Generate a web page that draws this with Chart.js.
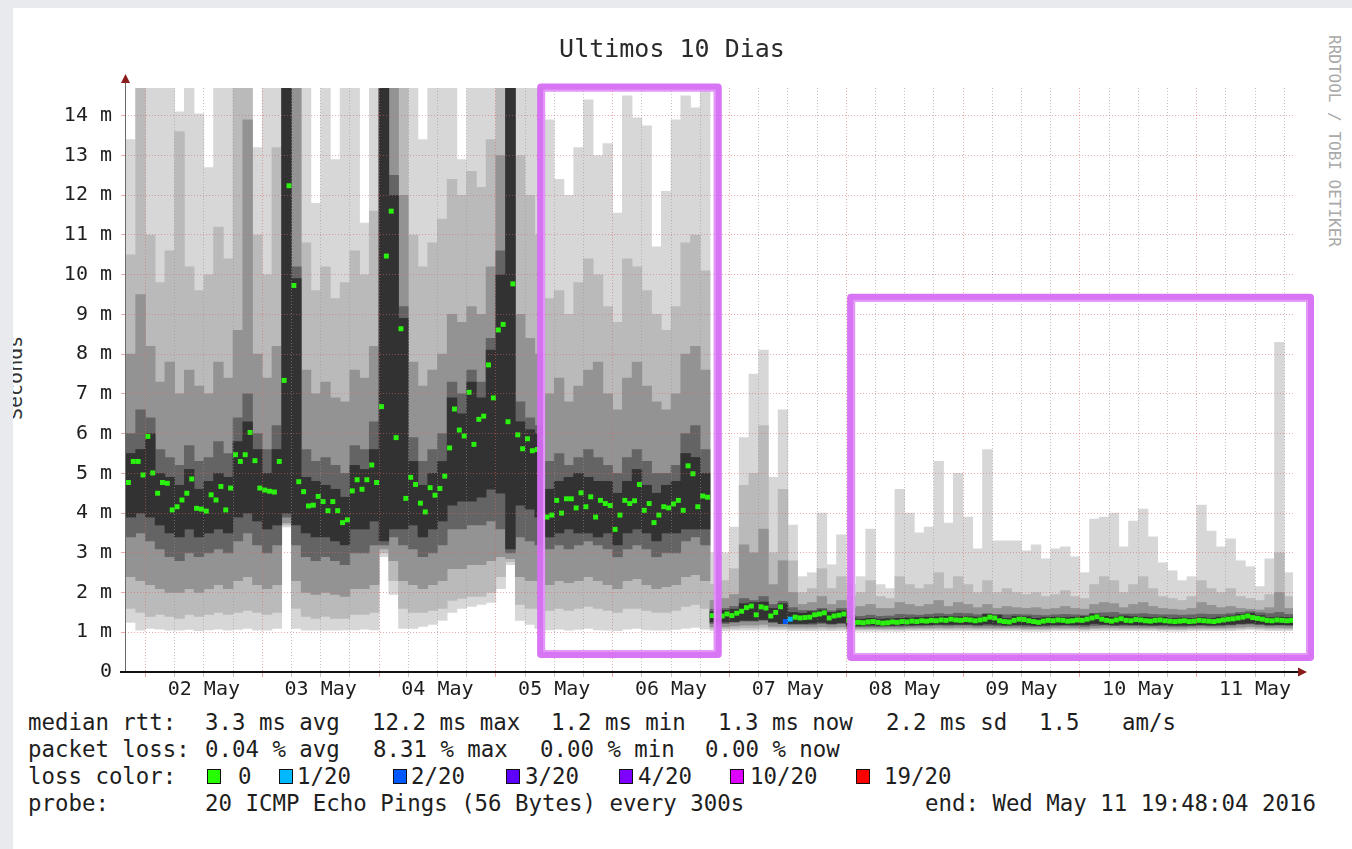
<!DOCTYPE html>
<html>
<head>
<meta charset="utf-8">
<script src="https://cdn.jsdelivr.net/npm/chart.js@4.4.1/dist/chart.umd.min.js"></script>
<style>
html,body{margin:0;padding:0;}
body{width:1352px;height:849px;background:#e9eaee;position:relative;overflow:hidden;font-family:'DejaVu Sans Mono','Liberation Mono',monospace;}
#card{position:absolute;left:13px;top:8px;width:1339px;height:841px;background:#ffffff;overflow:hidden;z-index:0;}
#ylab{position:absolute;left:-40px;top:358px;width:84px;height:24px;line-height:24px;font-size:20px;color:#333;text-align:center;white-space:nowrap;transform:rotate(-90deg);}
#credit{position:absolute;left:1228px;top:131px;width:212px;height:20px;line-height:20px;font-size:16px;color:#a9a9a9;text-align:center;white-space:nowrap;transform:rotate(90deg);z-index:1;}
#c{position:absolute;left:0;top:0;z-index:2;}
.lg{position:absolute;font-size:22.4px;line-height:26px;height:26px;color:#1e1e1e;white-space:pre;z-index:1;}
.sw{position:absolute;width:12px;height:13px;border:1px solid #111;z-index:1;}
</style>
</head>
<body>
<div id="card"><div id="ylab">Seconds</div></div>
<div id="credit">RRDTOOL / TOBI OETIKER</div>
<div id="legend"></div>
<canvas id="c" width="1352" height="849"></canvas>
<script>
// ---- time base: hours since 01 May 2016 00:00 ----
const rangeStart = 19.8;   // May 1 19:48
const rangeEnd = 259.8;    // May 11 19:48
const smokeFirstBin = 20;  // smoke bins start May 1 20:00
const smokeBinHours = 2;
const medianFirst = 20.5;  // hourly median samples
const medianStepHours = 1;

const dayLabels = ['02 May','03 May','04 May','05 May','06 May','07 May','08 May','09 May','10 May','11 May'];
const yTickLabels = ['0','1 m','2 m','3 m','4 m','5 m','6 m','7 m','8 m','9 m','10 m','11 m','12 m','13 m','14 m'];

// ---- smoke (ping distribution) per 2-hour bin, in ms ----
const smokeMax = [
 13.4,14.7,14.7,14.7,14.7,14.1,14.7,14.05,12.7,14.7,
 14.7,14.7,14.7,13.2,14.7,14.7,14.7,14.7,14.7,11.8,
 14.7,12.9,14.7,14.7,11.3,14.7,14.7,14.7,14.7,14.7,
 13.4,14.7,14.7,14.7,12.9,14.7,14.7,14.7,14.7,14.7,
 14.7,14.7,14.7,13.9,12.4,12.0,13.2,14.4,13.0,13.3,
 11.55,14.5,13.95,13.75,10.7,12.1,13.9,14.5,14.2,14.65,
 3.0,3.0,3.65,5.9,7.5,8.1,4.9,6.6,3.7,2.4,
 2.5,4.0,2.7,3.45,2.2,2.4,3.6,2.2,2.1,4.6,
 4.0,3.5,3.65,5.3,3.75,5.0,3.9,3.1,5.6,3.3,
 3.3,3.3,3.05,3.2,2.85,3.1,3.15,2.9,2.5,3.85,
 3.9,4.0,3.15,3.8,4.1,3.4,2.75,2.55,2.3,2.4,
 4.2,3.55,3.15,3.35,2.8,2.65,2.15,2.85,8.3,2.5
];
const smokeHi1 = [
 10.5,14.7,11.0,9.8,10.6,13.6,10.2,9.6,10.0,11.2,
 10.4,14.7,14.7,11.0,10.0,13.2,14.7,14.7,10.8,9.6,
 10.2,9.4,9.8,10.6,10.0,11.6,14.7,14.7,14.7,11.0,
 10.2,10.8,11.4,12.4,12.0,12.6,12.2,13.4,14.7,14.7,
 13.0,12.0,11.0,9.4,9.6,9.0,9.8,10.4,10.0,9.2,
 8.8,10.4,10.2,9.6,9.0,8.6,9.2,10.8,11.0,10.1,
 2.2,2.3,2.6,4.7,5.0,6.2,3.0,4.6,2.8,2.0,
 2.1,2.6,2.1,2.4,1.9,2.0,2.3,1.9,1.85,2.4,
 2.2,2.1,2.2,2.5,2.1,2.4,2.2,2.0,2.3,2.0,
 2.1,2.0,1.95,2.0,1.9,1.95,2.05,1.9,1.85,2.2,
 2.4,2.3,2.0,2.2,2.4,2.1,1.9,1.85,1.8,1.9,
 2.3,2.1,2.0,2.1,1.9,1.85,1.8,1.95,3.0,1.9
];
const smokeHi2 = [
 8.0,9.5,8.2,7.3,7.8,7.0,7.6,7.2,7.0,7.8,
 7.4,8.6,13.9,8.0,7.4,8.2,14.7,14.7,7.6,7.0,
 7.3,6.9,6.8,7.6,7.4,8.2,14.7,14.7,12.0,7.8,
 7.2,7.6,8.0,9.0,8.8,9.2,9.0,10.2,13.0,14.7,
 9.0,8.4,8.0,7.0,7.4,6.8,7.2,7.6,7.8,7.0,
 6.6,7.4,7.8,7.2,6.8,6.6,7.0,8.0,8.2,7.6,
 1.8,1.85,1.95,3.2,3.0,3.6,2.2,2.8,2.0,1.7,
 1.75,1.9,1.7,1.8,1.6,1.65,1.7,1.6,1.6,1.75,
 1.7,1.65,1.7,1.8,1.65,1.75,1.7,1.62,1.7,1.6,
 1.65,1.62,1.6,1.62,1.58,1.6,1.65,1.6,1.58,1.7,
 1.75,1.72,1.62,1.7,1.75,1.65,1.6,1.58,1.56,1.6,
 1.75,1.68,1.62,1.65,1.6,1.58,1.56,1.62,2.0,1.6
];
const smokeHi3 = [
 6.0,6.6,6.4,5.6,5.4,5.2,5.7,5.3,5.4,5.8,
 5.5,6.4,7.0,6.0,5.6,6.2,14.7,10.2,5.6,5.3,
 5.4,5.2,5.0,5.7,5.6,6.3,14.7,12.5,9.2,5.9,
 5.3,5.6,6.0,7.3,7.0,7.6,7.3,8.4,10.6,14.7,
 6.8,6.4,6.2,5.3,5.5,5.2,5.4,5.6,5.4,5.2,
 5.0,5.4,5.6,5.3,5.0,5.0,5.2,6.0,6.2,5.6,
 1.58,1.6,1.65,1.85,1.8,1.9,1.7,1.78,1.62,1.55,
 1.55,1.6,1.54,1.6,1.42,1.4,1.43,1.4,1.41,1.45,
 1.44,1.43,1.45,1.47,1.45,1.48,1.47,1.44,1.47,1.45,
 1.44,1.45,1.44,1.43,1.42,1.44,1.45,1.44,1.43,1.47,
 1.49,1.5,1.46,1.46,1.47,1.45,1.44,1.44,1.43,1.44,
 1.46,1.45,1.45,1.47,1.5,1.52,1.49,1.47,1.5,1.45
];
const smokeHi4 = [
 5.5,5.6,6.0,5.0,4.9,4.7,5.1,4.6,4.8,5.0,
 4.9,5.8,6.3,5.6,5.0,5.6,14.7,9.9,4.9,4.8,
 4.7,4.6,4.4,5.2,5.1,5.6,14.7,12.0,8.9,5.3,
 4.7,5.0,5.3,6.9,6.5,7.3,6.9,8.1,10.0,14.7,
 6.3,6.1,6.0,4.6,4.8,4.9,5.0,4.9,4.8,4.8,
 4.5,4.8,5.1,4.7,4.5,4.7,4.8,5.5,5.4,5.0,
 1.52,1.55,1.58,1.72,1.75,1.76,1.6,1.72,1.5,1.48,
 1.52,1.56,1.5,1.54,1.36,1.33,1.35,1.33,1.34,1.35,
 1.36,1.37,1.38,1.39,1.4,1.39,1.39,1.38,1.45,1.43,
 1.35,1.4,1.39,1.35,1.37,1.38,1.37,1.38,1.4,1.46,
 1.4,1.38,1.41,1.39,1.38,1.37,1.38,1.35,1.36,1.35,
 1.37,1.35,1.38,1.41,1.45,1.48,1.42,1.37,1.38,1.37
];
const smokeLo4 = [
 3.9,4.0,3.9,3.7,3.5,3.4,3.6,3.4,3.5,3.6,
 3.5,3.9,4.0,3.8,3.6,3.7,4.0,3.7,3.5,3.4,
 3.4,3.3,3.2,3.6,3.6,3.8,3.3,3.6,3.6,3.7,
 3.4,3.6,3.8,4.2,4.3,4.3,4.4,4.6,4.5,3.1,
 4.2,4.1,3.9,3.4,3.5,3.6,3.5,3.5,3.4,3.5,
 3.2,3.5,3.6,3.5,3.3,3.5,3.5,3.6,3.6,3.6,
 1.26,1.26,1.27,1.3,1.3,1.32,1.27,1.22,1.22,1.22,
 1.23,1.25,1.22,1.24,1.17,1.17,1.18,1.17,1.17,1.18,
 1.18,1.19,1.19,1.2,1.2,1.2,1.2,1.19,1.21,1.2,
 1.18,1.19,1.19,1.17,1.18,1.19,1.19,1.19,1.19,1.22,
 1.2,1.18,1.2,1.19,1.19,1.18,1.19,1.18,1.18,1.18,
 1.19,1.18,1.19,1.2,1.22,1.23,1.21,1.19,1.19,1.19
];
const smokeLo3 = [
 3.4,3.5,3.3,3.1,2.9,2.8,3.0,2.9,3.0,3.1,
 3.0,3.3,3.5,3.2,3.0,3.2,3.9,3.2,2.9,2.8,
 2.9,2.8,2.7,3.0,3.0,3.2,3.2,3.4,3.2,3.1,
 2.9,3.0,3.2,3.6,3.6,3.7,3.7,3.8,3.6,3.0,
 3.4,3.3,3.2,3.1,3.2,3.1,3.2,3.3,3.2,3.1,
 2.9,3.1,3.2,3.1,2.9,3.0,3.0,3.3,3.4,3.2,
 1.22,1.22,1.25,1.28,1.28,1.3,1.24,1.22,1.2,1.2,
 1.2,1.22,1.2,1.22,1.15,1.14,1.14,1.14,1.15,1.15,
 1.16,1.16,1.17,1.18,1.17,1.18,1.18,1.16,1.17,1.16,
 1.16,1.16,1.15,1.15,1.15,1.16,1.17,1.16,1.15,1.17,
 1.18,1.18,1.17,1.17,1.16,1.16,1.16,1.15,1.15,1.16,
 1.17,1.16,1.16,1.18,1.2,1.21,1.19,1.17,1.18,1.17
];
const smokeLo2 = [
 2.4,2.3,2.2,2.1,2.0,2.0,2.1,2.0,2.1,2.2,
 2.1,2.3,2.4,2.2,2.1,2.2,3.75,2.3,2.0,1.95,
 2.0,1.95,1.9,2.1,2.1,2.2,3.1,2.8,2.3,2.2,
 2.1,2.2,2.3,2.6,2.6,2.7,2.7,2.8,2.9,2.85,
 2.4,2.3,2.3,2.2,2.3,2.25,2.3,2.4,2.3,2.2,
 2.1,2.3,2.35,2.2,2.1,2.15,2.2,2.4,2.45,2.3,
 1.14,1.14,1.16,1.18,1.18,1.2,1.15,1.15,1.13,1.13,
 1.13,1.14,1.13,1.14,1.1,1.1,1.1,1.1,1.1,1.1,
 1.11,1.11,1.11,1.12,1.11,1.12,1.12,1.11,1.11,1.11,
 1.11,1.11,1.1,1.1,1.1,1.11,1.11,1.11,1.1,1.11,
 1.12,1.12,1.11,1.11,1.11,1.11,1.1,1.1,1.1,1.11,
 1.11,1.11,1.11,1.12,1.13,1.14,1.13,1.12,1.12,1.11
];
const smokeLo1 = [
 1.6,1.5,1.4,1.45,1.4,1.35,1.45,1.4,1.45,1.5,
 1.45,1.5,1.55,1.5,1.45,1.5,3.7,1.6,1.4,1.35,
 1.4,1.35,1.35,1.45,1.45,1.5,3.0,2.3,1.6,1.5,
 1.5,1.55,1.6,1.8,1.85,1.9,1.9,2.0,2.4,2.78,
 1.7,1.6,1.6,1.55,1.6,1.55,1.6,1.65,1.6,1.55,
 1.5,1.6,1.6,1.55,1.5,1.5,1.55,1.65,1.7,1.6,
 1.09,1.09,1.1,1.11,1.11,1.12,1.1,1.1,1.08,1.08,
 1.08,1.09,1.08,1.09,1.07,1.07,1.07,1.07,1.07,1.07,
 1.08,1.08,1.08,1.08,1.08,1.08,1.08,1.08,1.08,1.08,
 1.08,1.08,1.07,1.07,1.07,1.08,1.08,1.08,1.07,1.08,
 1.08,1.08,1.08,1.08,1.08,1.08,1.07,1.07,1.07,1.08,
 1.08,1.08,1.08,1.08,1.09,1.1,1.09,1.08,1.08,1.08
];
const smokeMin = [
 1.25,1.05,1.1,1.08,1.05,1.05,1.07,1.04,1.06,1.08,
 1.05,1.07,1.1,1.05,1.05,1.1,3.65,1.1,1.05,1.05,
 1.05,1.05,1.06,1.06,1.08,1.06,2.9,1.95,1.1,1.1,
 1.15,1.2,1.3,1.5,1.6,1.65,1.7,1.75,2.1,2.7,
 1.3,1.2,1.1,1.06,1.08,1.05,1.07,1.1,1.06,1.05,
 1.04,1.08,1.1,1.06,1.05,1.05,1.07,1.1,1.12,1.08,
 1.04,1.04,1.05,1.05,1.05,1.06,1.05,1.05,1.04,1.04,
 1.04,1.04,1.04,1.04,1.03,1.03,1.03,1.03,1.03,1.03,
 1.04,1.04,1.04,1.04,1.04,1.04,1.04,1.04,1.04,1.04,
 1.04,1.04,1.03,1.03,1.03,1.04,1.04,1.04,1.03,1.04,
 1.04,1.04,1.04,1.04,1.04,1.04,1.03,1.03,1.03,1.04,
 1.04,1.04,1.04,1.04,1.05,1.06,1.05,1.04,1.04,1.04
];

// ---- hourly median rtt, in ms ----
const medianRtt = [
 4.77,5.30,5.30,4.96,5.93,5.01,4.50,4.77,4.75,4.08,
 4.16,4.33,4.50,4.86,4.12,4.10,4.05,4.46,4.33,4.67,
 4.08,4.63,5.47,5.30,5.47,6.03,5.32,4.63,4.58,4.55,
 4.53,5.30,7.34,12.24,9.73,4.79,4.54,4.18,4.20,4.42,
 4.29,4.06,4.29,4.06,3.76,3.83,4.56,4.84,4.60,4.84,
 5.21,4.77,6.68,10.47,11.60,5.90,8.64,4.37,4.90,4.72,
 4.25,4.03,4.64,4.45,4.62,4.93,5.64,6.62,6.09,5.94,
 7.04,5.73,6.36,6.44,7.73,6.90,8.61,8.75,6.30,9.77,
 5.97,5.62,5.87,5.57,5.60,5.90,3.90,3.95,4.32,4.00,
 4.36,4.36,4.13,4.51,4.16,4.41,3.90,4.32,4.24,4.19,
 3.59,3.95,4.32,4.24,4.31,4.72,4.07,4.24,3.76,3.95,
 4.16,4.13,4.23,4.32,4.07,5.19,4.99,4.16,4.43,4.40,
 1.42,1.41,1.41,1.46,1.42,1.48,1.53,1.62,1.66,1.44,
 1.64,1.61,1.41,1.50,1.64,1.27,1.33,1.38,1.36,1.37,
 1.38,1.44,1.46,1.49,1.36,1.41,1.43,1.46,1.30,1.24,
 1.25,1.24,1.26,1.27,1.25,1.23,1.24,1.26,1.25,1.27,
 1.26,1.28,1.27,1.29,1.28,1.30,1.29,1.31,1.30,1.33,
 1.31,1.30,1.32,1.31,1.29,1.31,1.33,1.38,1.36,1.29,
 1.27,1.26,1.30,1.33,1.32,1.29,1.27,1.25,1.28,1.30,
 1.29,1.31,1.30,1.28,1.29,1.31,1.30,1.33,1.36,1.39,
 1.33,1.30,1.28,1.31,1.34,1.30,1.29,1.32,1.31,1.29,
 1.28,1.30,1.31,1.29,1.28,1.27,1.28,1.29,1.27,1.28,
 1.30,1.29,1.28,1.27,1.29,1.31,1.33,1.34,1.36,1.38,
 1.41,1.37,1.35,1.33,1.30,1.29,1.31,1.30,1.29,1.30
];
// median samples that had packet loss (index into medianRtt) and pings lost of 20
const lossAt = [135, 136];
const lossOf = [2, 1];

// ---- legend content ----
const lossLegendLabels = ['0','1/20','2/20','3/20','4/20','10/20','19/20'];
const lossLegendLevels = [0, 1, 2, 3, 4, 10, 19];
const lossLegendColors = ['#26ff00','#00b8ff','#0059ff','#5e00ff','#7e00ff','#dd00ff','#ff0000'];
const rttStats = ['3.3 ms avg','12.2 ms max','1.2 ms min','1.3 ms now','2.2 ms sd','1.5','am/s'];
const lossStats = ['0.04 % avg','8.31 % max','0.00 % min','0.00 % now'];
const probeText = '20 ICMP Echo Pings (56 Bytes) every 300s';
const endText = 'end: Wed May 11 19:48:04 2016';

// highlight frames drawn over the graph (hours, ms)
const highlightBoxes = [
  {fromHour: 105.3, toHour: 141.6, topMs: 14.71, bottomMs: 0.45},
  {fromHour: 169.0, toHour: 263.3, topMs: 9.42, bottomMs: 0.38}
];

// ---------------- build page ----------------
const mono = "'DejaVu Sans Mono','Liberation Mono',monospace";
const legend = document.getElementById('legend');
function addText(txt, x, yc){
  const d = document.createElement('div');
  d.className = 'lg'; d.textContent = txt;
  d.style.left = x + 'px'; d.style.top = (yc - 13) + 'px';
  legend.appendChild(d);
}
function addSwatch(color, x, yc){
  const d = document.createElement('div');
  d.className = 'sw'; d.style.background = color;
  d.style.left = x + 'px'; d.style.top = (yc - 7) + 'px';
  legend.appendChild(d);
}
const rowY = [722, 749, 776, 803];
const rttX = [205, 372, 551, 718, 886, 1039, 1122];
const lossX = [205, 373, 540, 705];
const swX = [207, 279, 393, 506, 619, 730, 856];
const swTextX = [238, 297, 411, 525, 638, 750, 884];
addText('median rtt:', 28, rowY[0]);
rttStats.forEach((t,i)=>addText(t, rttX[i], rowY[0]));
addText('packet loss:', 28, rowY[1]);
lossStats.forEach((t,i)=>addText(t, lossX[i], rowY[1]));
addText('loss color:', 28, rowY[2]);
lossLegendLabels.forEach((t,i)=>{ addSwatch(lossLegendColors[i], swX[i], rowY[2]); addText(t, swTextX[i], rowY[2]); });
addText('probe:', 28, rowY[3]);
addText(probeText, 205, rowY[3]);
addText(endText, 925, rowY[3]);

// ---------------- chart ----------------
const lossColorByLevel = {};
lossLegendLevels.forEach((lv,i)=>lossColorByLevel[lv] = lossLegendColors[i]);
function medianColor(i){
  const p = lossAt.indexOf(i);
  return p < 0 ? '#2af20e' : lossColorByLevel[lossOf[p]];
}

const layers = [
  {lo: smokeMin, hi: smokeMax, color: '#d7d7d7'},
  {lo: smokeLo1, hi: smokeHi1, color: '#bababa'},
  {lo: smokeLo2, hi: smokeHi2, color: '#939393'},
  {lo: smokeLo3, hi: smokeHi3, color: '#646464'},
  {lo: smokeLo4, hi: smokeHi4, color: '#323232'}
];
const datasets = layers.map((L, li) => ({
  type: 'bar',
  data: L.lo.map((v, k) => ({x: smokeFirstBin + smokeBinHours * k + smokeBinHours / 2, y: [v, L.hi[k]]})),
  backgroundColor: L.color,
  borderWidth: 0,
  grouped: false,
  barPercentage: 1,
  categoryPercentage: 1,
  order: 10 - li
}));
datasets.push({
  type: 'line',
  data: medianRtt.map((v, j) => ({x: medianFirst + medianStepHours * j, y: v})),
  showLine: false,
  pointStyle: 'rect',
  pointRadius: 3.5,
  pointHoverRadius: 3.5,
  pointBorderWidth: 0,
  pointBackgroundColor: (ctx) => medianColor(ctx.dataIndex),
  order: 0
});

const majorGrid = 'rgba(222,100,100,0.55)';
const minorGrid = 'rgba(150,150,150,0.55)';

const decor = {
  id: 'decor',
  afterDraw(chart){
    const {ctx, chartArea: a, scales: {x, y}} = chart;
    ctx.save();
    // y axis line + arrow
    ctx.strokeStyle = '#6a6a6a'; ctx.lineWidth = 1;
    ctx.beginPath(); ctx.moveTo(a.left + 0.5, a.bottom); ctx.lineTo(a.left + 0.5, a.top - 8); ctx.stroke();
    ctx.fillStyle = '#8b1c1c';
    ctx.beginPath(); ctx.moveTo(a.left + 0.5, a.top - 14); ctx.lineTo(a.left - 4, a.top - 5); ctx.lineTo(a.left + 5, a.top - 5); ctx.closePath(); ctx.fill();
    // x axis line + arrow
    ctx.strokeStyle = '#111'; ctx.lineWidth = 2;
    ctx.beginPath(); ctx.moveTo(a.left - 5, a.bottom); ctx.lineTo(a.right + 6, a.bottom); ctx.stroke();
    ctx.beginPath(); ctx.moveTo(a.right + 14, a.bottom); ctx.lineTo(a.right + 5, a.bottom - 4.5); ctx.lineTo(a.right + 5, a.bottom + 4.5); ctx.closePath(); ctx.fill();
    // highlight frames
    ctx.strokeStyle = 'rgba(214,110,243,0.95)';
    ctx.lineWidth = 8; ctx.lineJoin = 'round';
    highlightBoxes.forEach(b => {
      const x1 = x.getPixelForValue(b.fromHour), x2 = x.getPixelForValue(b.toHour);
      const y1 = y.getPixelForValue(b.topMs), y2 = y.getPixelForValue(b.bottomMs);
      ctx.strokeRect(x1, y1, x2 - x1, y2 - y1);
    });
    ctx.strokeStyle = 'rgba(232,160,250,0.8)'; ctx.lineWidth = 2;
    highlightBoxes.forEach(b => {
      const x1 = x.getPixelForValue(b.fromHour), x2 = x.getPixelForValue(b.toHour);
      const y1 = y.getPixelForValue(b.topMs), y2 = y.getPixelForValue(b.bottomMs);
      ctx.strokeRect(x1 + 3, y1 + 3, x2 - x1 - 6, y2 - y1 - 6);
    });
    ctx.restore();
  }
};

const xTickHours = [];
for (let h = 24; h <= 258; h += 6) xTickHours.push(h);
const yTickValues = [];
for (let v = 0; v <= 14.5; v += 0.5) yTickValues.push(v);

new Chart(document.getElementById('c'), {
  type: 'bar',
  data: {datasets},
  options: {
    responsive: false,
    animation: false,
    devicePixelRatio: 1,
    events: [],
    layout: {padding: {left: 51, right: 59, top: 0, bottom: 137}},
    plugins: {
      legend: {display: false},
      tooltip: {enabled: false},
      title: {
        display: true,
        text: 'Ultimos 10 Dias',
        color: '#2a2a2a',
        font: {family: mono, size: 25, weight: 'normal'},
        padding: {top: 35, bottom: 23}
      }
    },
    scales: {
      x: {
        type: 'linear',
        min: rangeStart,
        max: rangeEnd,
        offset: false,
        afterBuildTicks: (s) => { s.ticks = xTickHours.map(v => ({value: v})); },
        afterFit: (s) => { s.height = 40; },
        grid: {
          offset: false, z: 1, lineWidth: 1, tickLength: 5,
          color: (c) => (c.tick && c.tick.value % 24 === 0) ? majorGrid : minorGrid
        },
        border: {display: false, dash: [1, 2]},
        ticks: {
          autoSkip: false, maxRotation: 0, minRotation: 0, padding: 1,
          color: '#1e1e1e', font: {family: mono, size: 20},
          callback: (v) => ((v - 12) % 24 === 0) ? dayLabels[(v - 36) / 24] : ''
        }
      },
      y: {
        type: 'linear',
        min: 0,
        max: 14.7,
        afterBuildTicks: (s) => { s.ticks = yTickValues.map(v => ({value: v})); },
        afterFit: (s) => { s.width = 74; },
        grid: {
          z: 1, lineWidth: 1, tickLength: 4,
          color: (c) => (c.tick && c.tick.value % 1 === 0) ? majorGrid : minorGrid
        },
        border: {display: false, dash: [1, 2]},
        ticks: {
          padding: 9, color: '#1e1e1e', font: {family: mono, size: 20},
          callback: (v) => (v % 1 === 0) ? yTickLabels[v] : ''
        }
      }
    }
  },
  plugins: [decor]
});
</script>
</body>
</html>
